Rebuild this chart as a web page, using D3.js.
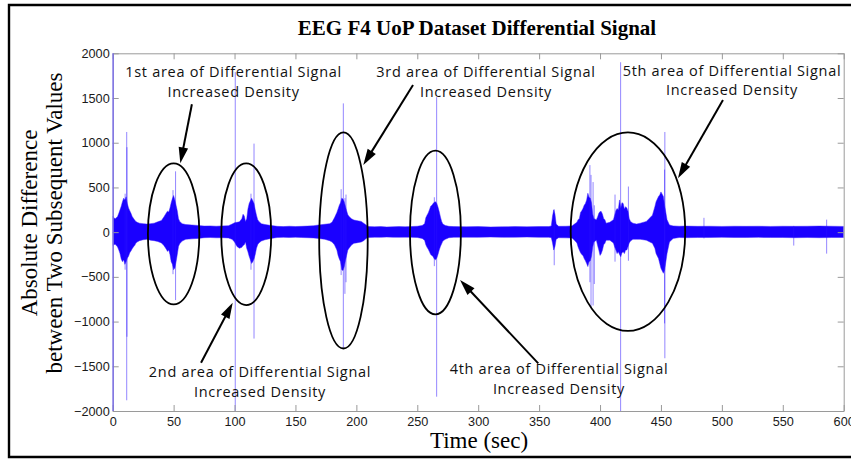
<!DOCTYPE html>
<html>
<head>
<meta charset="utf-8">
<script src="https://cdn.jsdelivr.net/npm/d3@7"></script>
<style>
  html, body { margin: 0; padding: 0; background: #fff; }
  svg { display: block; }
</style>
</head>
<body>
<svg id="chart" width="851" height="460"></svg>
<script>
// ---- Signal envelope: time (s), upper and lower bound of the differential signal ----
const sigTime = [0,1,2,3,4,5,6,7,8,9,10,11,12,13,14,15,16,17,18,19,20,22,25,28,31,34,37,40,42,44,45,46,47,48,49,50,51,52,53,54,55,57,60,65,70,75,80,85,90,95,98,100,102,104,106,107,108,109,110,111,112,113,114,115,116,117,118,119,120,122,125,130,135,140,145,150,155,160,165,169,174,178,180,182,184,185,186,187,188,189,190,191,192,193,194,196,198,200,202,204,206,208,210,215,220,225,230,235,240,245,250,254,256,257,258,259,260,261,262,263,264,265,266,267,268,269,270,271,273,276,280,290,300,310,320,330,340,350,358,360,361,362,363,364,366,372,377,379,381,382,383,384,385,386,387,388,389,390,391,392,393,394,395,397,398,399,400,401,402,403,404,405,408,411,412,413,414,415,416,417,418,419,420,421,422,423,424,425,427,430,433,438,443,445,446,448,449,450,452,453,455,457,460,465,470,480,490,500,510,520,530,540,550,560,570,580,590,600];
const sigUpper = [180,160,150,160,175,210,250,290,340,380,360,395,320,270,240,210,175,155,135,120,110,100,95,90,95,100,115,130,170,215,235,225,270,330,375,410,360,300,240,150,120,95,85,80,75,68,70,66,70,72,90,105,110,115,150,200,180,120,150,260,320,350,380,350,320,250,190,140,120,95,85,75,65,62,66,63,65,68,72,80,88,95,110,160,220,260,300,330,380,370,340,290,240,195,175,150,135,130,125,120,100,80,62,60,62,58,60,62,60,63,66,75,95,160,190,215,250,290,300,320,335,340,320,280,230,170,120,90,75,65,62,60,62,58,60,62,60,63,62,70,180,250,200,90,65,66,70,90,110,140,150,220,240,265,300,320,360,435,390,380,330,200,150,140,170,210,230,230,200,150,140,100,110,140,190,240,265,250,360,270,330,320,260,285,270,230,150,120,100,90,100,120,190,285,340,400,415,450,400,300,140,80,70,66,68,65,66,64,66,65,66,64,66,65,66,68,66,64];
const sigLower = [-150,-140,-135,-150,-165,-200,-240,-300,-330,-310,-360,-330,-290,-270,-230,-210,-185,-165,-150,-125,-110,-95,-85,-80,-90,-95,-105,-120,-150,-190,-215,-200,-250,-330,-360,-420,-400,-330,-250,-160,-130,-100,-80,-75,-70,-62,-60,-63,-62,-65,-80,-110,-160,-180,-170,-150,-140,-110,-180,-220,-270,-310,-350,-330,-300,-250,-180,-140,-120,-100,-85,-70,-60,-58,-60,-57,-60,-62,-65,-70,-80,-95,-110,-140,-200,-260,-300,-330,-420,-430,-390,-320,-260,-200,-180,-145,-125,-120,-115,-110,-95,-70,-60,-57,-58,-55,-57,-58,-56,-58,-60,-70,-90,-140,-170,-190,-220,-250,-260,-275,-300,-310,-290,-250,-200,-160,-130,-100,-80,-62,-58,-57,-58,-55,-58,-57,-55,-58,-58,-62,-120,-200,-160,-80,-62,-64,-65,-90,-120,-165,-200,-230,-250,-260,-295,-320,-350,-385,-330,-320,-270,-165,-110,-90,-150,-200,-260,-240,-200,-140,-125,-90,-90,-120,-165,-200,-240,-220,-250,-275,-230,-220,-240,-200,-200,-160,-120,-100,-80,-80,-80,-90,-125,-180,-240,-295,-350,-405,-460,-425,-240,-110,-70,-60,-62,-60,-60,-58,-60,-60,-58,-60,-60,-62,-60,-62,-60,-60];

// ---- Isolated spikes: time (s), peak value, trough value ----
const spikeTime = [0.3, 10.2, 11.5, 11.7, 49.5, 51.6, 100.6, 113.5, 116.0, 187.5, 189.3, 190.6, 191.5, 264.0, 265.9, 362.4, 391.7, 392.6, 394.3, 395.3, 412.3, 416.9, 423.3, 453.0, 453.2, 485.3, 559.0, 586.0];
const spikeHigh = [2000, 430, 1120, 950, 470, 680, 1790, 430, 990, 480, 1440, 380, 420, 390, 1510, 255, 750, 640, 560, 300, 420, 1900, 510, 700, 1120, 160, 70, 140];
const spikeLow  = [-2000, -420, -1880, -1170, -470, -760, -2000, -420, -1190, -480, -1300, -690, -560, -380, -1840, -370, -560, -840, -820, -580, -330, -2000, -320, -1020, -1410, -70, -150, -240];

// ---- Axis ticks ----
const xTicks = [0, 50, 100, 150, 200, 250, 300, 350, 400, 450, 500, 550, 600];
const yTicks = [-2000, -1500, -1000, -500, 0, 500, 1000, 1500, 2000];

// ---- Highlighted regions (centre time/value, half-width in s, half-height in value) ----
const regionT  = [50.0, 109.6, 189.4, 264.9, 422.9];
const regionV  = [-20, -23, -93, -4, 5];
const regionRT = [21.1, 20.5, 19.9, 20.9, 47.0];
const regionRV = [788, 792, 1208, 915, 1110];

// ---- Callout labels and arrows ----
const calloutLines = [
  ["1st area of Differential Signal", "Increased Density"],
  ["2nd area of Differential Signal", "Increased Density"],
  ["3rd area of Differential Signal", "Increased Density"],
  ["4th area of Differential Signal", "Increased Density"],
  ["5th area of Differential Signal", "Increased Density"]
];
const calloutT = [99.2, 120.9, 306.4, 366.3, 508.3];
const calloutV = [1738, -1620, 1735, -1586, 1750];
const arrowFrom = [[65, 1430], [72.5, -1460], [246.5, 1645], [349.3, -1467], [500.9, 1478]];
const arrowTo   = [[55.5, 770], [98.5, -789], [205.7, 751], [285.1, -535], [464.0, 602]];

// ---- Layout ----
const plot = { left: 112.7, right: 843.7, top: 53.3, bottom: 411 };
const svg = d3.select("#chart");

const x = d3.scaleLinear().domain([0, 600]).range([plot.left, plot.right]);
const y = d3.scaleLinear().domain([-2000, 2000]).range([plot.bottom, plot.top]);

// outer figure frame (right edge runs off the canvas)
svg.append("path")
  .attr("d", "M 862 5 H 9 V 457 H 862")
  .attr("fill", "none")
  .attr("stroke", "#000")
  .attr("stroke-width", 2.4);

// title
svg.append("text")
  .attr("x", 477).attr("y", 35)
  .attr("text-anchor", "middle")
  .style("font-family", "'Liberation Serif', 'Times New Roman', serif")
  .style("font-weight", "bold")
  .style("font-size", "21px")
  .text("EEG F4 UoP Dataset Differential Signal");

// axis labels
svg.append("text")
  .attr("x", 479).attr("y", 448)
  .attr("text-anchor", "middle")
  .style("font-family", "'Liberation Serif', 'Times New Roman', serif")
  .style("font-size", "23px")
  .text("Time (sec)");

const yl = svg.append("text")
  .attr("transform", "translate(0,223) rotate(-90)")
  .attr("text-anchor", "middle")
  .style("font-family", "'Liberation Serif', 'Times New Roman', serif")
  .style("font-size", "23px");
yl.append("tspan").attr("x", 0).attr("y", 36.5).text("Absolute Difference");
yl.append("tspan").attr("x", 0).attr("y", 62).text("between Two Subsequent Values");

// signal
svg.append("clipPath").attr("id", "plotclip")
  .append("rect")
  .attr("x", plot.left).attr("y", plot.top)
  .attr("width", plot.right - plot.left).attr("height", plot.bottom - plot.top);

const gSig = svg.append("g").attr("clip-path", "url(#plotclip)");

const envelope = sigTime.map((t, i) => ({ t, hi: sigUpper[i], lo: sigLower[i] }));
gSig.append("path")
  .datum(envelope)
  .attr("fill", "#1a00ff")
  .attr("stroke", "#3a20ff")
  .attr("stroke-width", 0.8)
  .attr("stroke-opacity", 0.6)
  .attr("d", d3.area().x(d => x(d.t)).y0(d => y(d.lo)).y1(d => y(d.hi)));

const spikes = spikeTime.map((t, i) => ({ t, hi: spikeHigh[i], lo: spikeLow[i] }));
gSig.selectAll("line.spike")
  .data(spikes)
  .join("line")
  .attr("class", "spike")
  .attr("x1", d => x(d.t)).attr("x2", d => x(d.t))
  .attr("y1", d => y(d.hi)).attr("y2", d => y(d.lo))
  .attr("stroke", "#2a10ff")
  .attr("stroke-opacity", 0.5)
  .attr("stroke-width", 1);

// axes box with inward ticks
const axisColor = "#9a9a9a";
function styleAxis(g, showLabels) {
  g.select(".domain").attr("stroke", axisColor);
  g.selectAll(".tick line").attr("stroke", axisColor);
  g.selectAll(".tick text")
    .attr("fill", "#1a1a1a")
    .style("font-family", "'Liberation Sans', Arial, sans-serif")
    .style("font-size", "12.7px");
  if (!showLabels) g.selectAll(".tick text").remove();
}

svg.append("g").attr("transform", `translate(0,${plot.bottom})`)
  .call(d3.axisBottom(x).tickValues(xTicks).tickFormat(d3.format("d")).tickSizeInner(-6).tickSizeOuter(0).tickPadding(6))
  .call(g => styleAxis(g, true));
svg.append("g").attr("transform", `translate(0,${plot.top})`)
  .call(d3.axisTop(x).tickValues(xTicks).tickSizeInner(-6).tickSizeOuter(0))
  .call(g => styleAxis(g, false));
svg.append("g").attr("transform", `translate(${plot.left},0)`)
  .call(d3.axisLeft(y).tickValues(yTicks).tickFormat(d3.format("d")).tickSizeInner(-6).tickSizeOuter(0).tickPadding(3))
  .call(g => styleAxis(g, true));
svg.append("g").attr("transform", `translate(${plot.right},0)`)
  .call(d3.axisRight(y).tickValues(yTicks).tickSizeInner(-6).tickSizeOuter(0))
  .call(g => styleAxis(g, false));

// the signal's first sample sits on the left axis
svg.append("line")
  .attr("x1", x(spikeTime[0])).attr("x2", x(spikeTime[0]))
  .attr("y1", y(spikeHigh[0])).attr("y2", y(spikeLow[0]))
  .attr("stroke", "#6a5aff").attr("stroke-width", 1);

// highlighted regions
svg.selectAll("ellipse.region")
  .data(regionT.map((t, i) => ({ t, v: regionV[i], rt: regionRT[i], rv: regionRV[i] })))
  .join("ellipse")
  .attr("class", "region")
  .attr("cx", d => x(d.t))
  .attr("cy", d => y(d.v))
  .attr("rx", d => x(d.t + d.rt) - x(d.t))
  .attr("ry", d => y(d.v) - y(d.v + d.rv))
  .attr("fill", "none")
  .attr("stroke", "#000")
  .attr("stroke-width", 1.8);

// arrows
const headLen = 16, headHalf = 4.8;
arrowFrom.forEach((p, i) => {
  const x0 = x(p[0]), y0 = y(p[1]);
  const x1 = x(arrowTo[i][0]), y1 = y(arrowTo[i][1]);
  const dx = x1 - x0, dy = y1 - y0, L = Math.hypot(dx, dy);
  const ux = dx / L, uy = dy / L;
  const bx = x1 - ux * headLen, by = y1 - uy * headLen;
  svg.append("line")
    .attr("x1", x0).attr("y1", y0).attr("x2", bx + ux * 2).attr("y2", by + uy * 2)
    .attr("stroke", "#000").attr("stroke-width", 2);
  svg.append("path")
    .attr("d", `M${x1},${y1} L${bx - uy * headHalf},${by + ux * headHalf} L${bx + uy * headHalf},${by - ux * headHalf} Z`)
    .attr("fill", "#000");
});

// callout text, one text element per line
calloutLines.forEach((lines, i) => {
  lines.forEach((s, j) => {
    svg.append("text")
      .attr("text-anchor", "middle")
      .attr("x", x(calloutT[i]))
      .attr("y", y(calloutV[i]) + j * 19.8)
      .style("font-family", "'Open Sans', 'Noto Sans', sans-serif")
      .style("font-size", "14.5px")
      .style("letter-spacing", "0.7px")
      .attr("fill", "#111")
      .text(s);
  });
});
</script>
</body>
</html>
